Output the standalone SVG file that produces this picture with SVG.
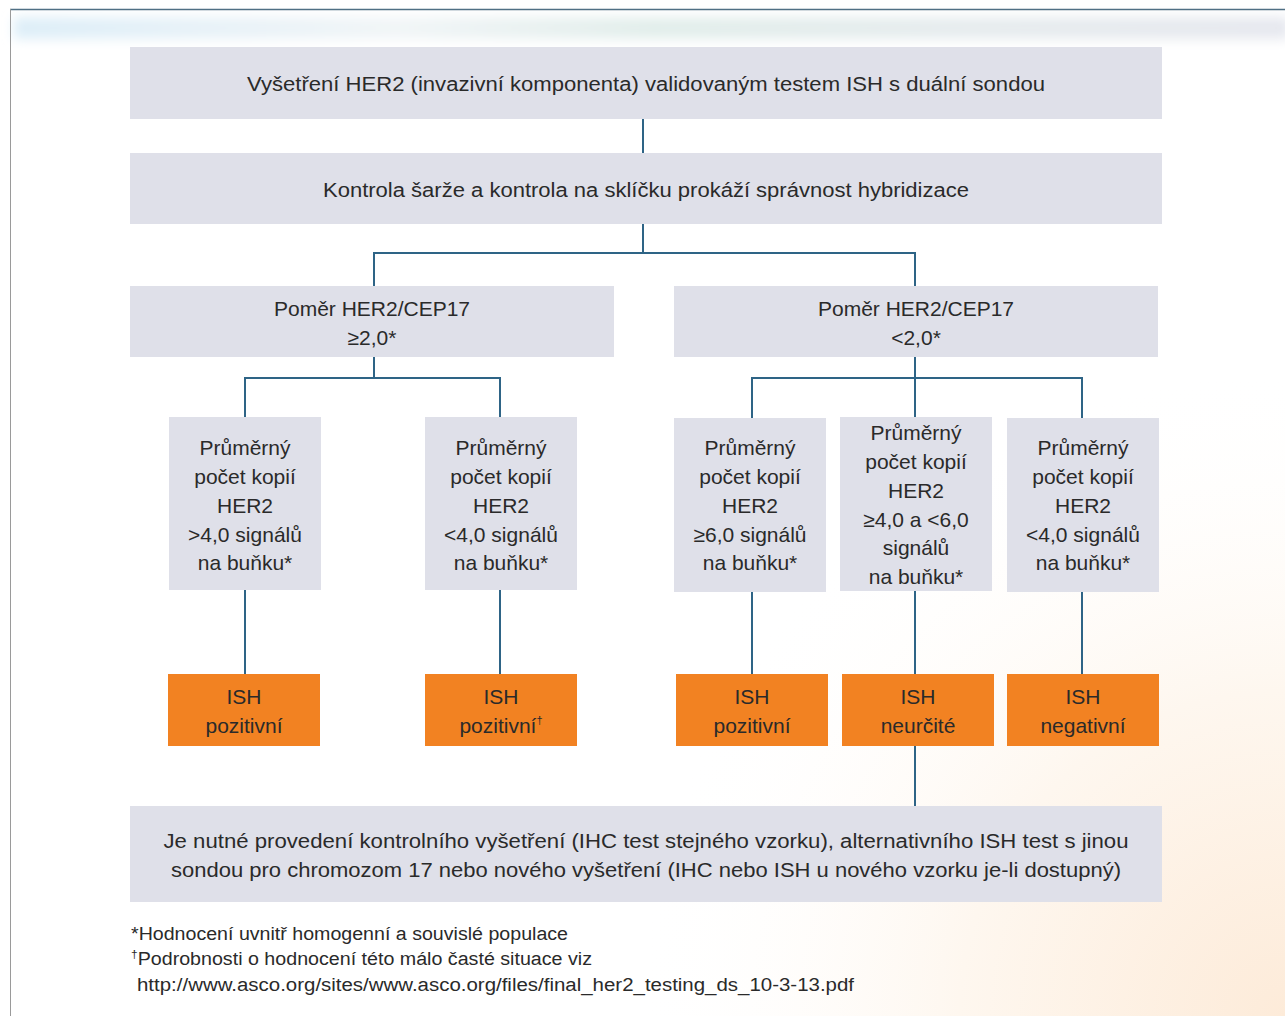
<svg xmlns="http://www.w3.org/2000/svg" width="1285" height="1016" viewBox="0 0 1285 1016">
<defs>
<style>
.g{fill:#dfe0e9}
.o{fill:#f28222}
.t{font-family:"Liberation Sans",Arial,sans-serif;font-size:20px;fill:#2a2a2a;text-anchor:middle}
.s{font-size:21px}
.f{font-family:"Liberation Sans",Arial,sans-serif;font-size:18px;fill:#2a2a2a}
.c{stroke:#2e6486;stroke-width:2;fill:none}
</style>
<linearGradient id="band" x1="0" y1="0" x2="1" y2="0">
<stop offset="0" stop-color="#ddeef8"/>
<stop offset="0.3" stop-color="#f1f5f7"/>
<stop offset="0.5" stop-color="#e2eeeb"/>
<stop offset="0.75" stop-color="#e6ecee"/>
<stop offset="1" stop-color="#e6e8ef"/>
</linearGradient>
<radialGradient id="peach" cx="1285" cy="1016" r="650" gradientUnits="userSpaceOnUse">
<stop offset="0" stop-color="#fdebd9"/>
<stop offset="0.5" stop-color="#fef7ef"/>
<stop offset="1" stop-color="#ffffff" stop-opacity="0"/>
</radialGradient>
<filter id="blur" x="-5%" y="-50%" width="110%" height="200%"><feGaussianBlur stdDeviation="6"/></filter>
</defs>
<rect width="1285" height="1016" fill="#ffffff"/>
<rect x="10" y="10" width="1275" height="1006" fill="url(#peach)"/>
<rect x="14" y="17" width="1275" height="22" fill="url(#band)" filter="url(#blur)"/>
<line x1="10" y1="9.5" x2="1285" y2="9.5" stroke="#4f6f84" stroke-width="1.5"/>
<line x1="10.5" y1="9" x2="10.5" y2="1016" stroke="#9a9a9a" stroke-width="1"/>

<g id="connectors">
<path class="c" d="M643 119V153M643 224V253M374 253H915M374 252V286M915 252V286"/>
<path class="c" d="M374 357V378M245 378H500M245 377V417M500 377V417"/>
<path class="c" d="M915 357V417M752 378H1082M752 377V418M1082 377V418"/>
<path class="c" d="M245 590V674M500 590V674M752 592V674M915 591V674M1082 592V674M915 746V806"/>
</g>

<g id="n1"><rect class="g" x="130" y="47" width="1032" height="72"/>
<text class="t" x="646" y="91" textLength="798" lengthAdjust="spacingAndGlyphs">Vyšetření HER2 (invazivní komponenta) validovaným testem ISH s duální sondou</text></g>
<g id="n2"><rect class="g" x="130" y="153" width="1032" height="71"/>
<text class="t" x="646" y="197" textLength="646" lengthAdjust="spacingAndGlyphs">Kontrola šarže a kontrola na sklíčku prokáží správnost hybridizace</text></g>
<g id="n3"><rect class="g" x="130" y="286" width="484" height="71"/>
<text class="t s" x="372" y="316">Poměr HER2/CEP17</text><text class="t s" x="372" y="345">≥2,0*</text></g>
<g id="n4"><rect class="g" x="674" y="286" width="484" height="71"/>
<text class="t s" x="916" y="316">Poměr HER2/CEP17</text><text class="t s" x="916" y="345">&lt;2,0*</text></g>

<g id="n5"><rect class="g" x="169" y="417" width="152" height="173"/>
<text class="t s" x="245" y="455">Průměrný</text><text class="t s" x="245" y="484">počet kopií</text><text class="t s" x="245" y="513">HER2</text><text class="t s" x="245" y="542">&gt;4,0 signálů</text><text class="t s" x="245" y="570">na buňku*</text></g>
<g id="n6"><rect class="g" x="425" y="417" width="152" height="173"/>
<text class="t s" x="501" y="455">Průměrný</text><text class="t s" x="501" y="484">počet kopií</text><text class="t s" x="501" y="513">HER2</text><text class="t s" x="501" y="542">&lt;4,0 signálů</text><text class="t s" x="501" y="570">na buňku*</text></g>
<g id="n7"><rect class="g" x="674" y="418" width="152" height="174"/>
<text class="t s" x="750" y="455">Průměrný</text><text class="t s" x="750" y="484">počet kopií</text><text class="t s" x="750" y="513">HER2</text><text class="t s" x="750" y="542">≥6,0 signálů</text><text class="t s" x="750" y="570">na buňku*</text></g>
<g id="n8"><rect class="g" x="840" y="417" width="152" height="174"/>
<text class="t s" x="916" y="440">Průměrný</text><text class="t s" x="916" y="469">počet kopií</text><text class="t s" x="916" y="498">HER2</text><text class="t s" x="916" y="527">≥4,0 a &lt;6,0</text><text class="t s" x="916" y="555">signálů</text><text class="t s" x="916" y="584">na buňku*</text></g>
<g id="n9"><rect class="g" x="1007" y="418" width="152" height="174"/>
<text class="t s" x="1083" y="455">Průměrný</text><text class="t s" x="1083" y="484">počet kopií</text><text class="t s" x="1083" y="513">HER2</text><text class="t s" x="1083" y="542">&lt;4,0 signálů</text><text class="t s" x="1083" y="570">na buňku*</text></g>

<g id="r1"><rect class="o" x="168" y="674" width="152" height="72"/>
<text class="t s" x="244" y="704">ISH</text><text class="t s" x="244" y="733">pozitivní</text></g>
<g id="r2"><rect class="o" x="425" y="674" width="152" height="72"/>
<text class="t s" x="501" y="704">ISH</text><text class="t s" x="501" y="733">pozitivní<tspan font-size="11" dy="-9">†</tspan></text></g>
<g id="r3"><rect class="o" x="676" y="674" width="152" height="72"/>
<text class="t s" x="752" y="704">ISH</text><text class="t s" x="752" y="733">pozitivní</text></g>
<g id="r4"><rect class="o" x="842" y="674" width="152" height="72"/>
<text class="t s" x="918" y="704">ISH</text><text class="t s" x="918" y="733">neurčité</text></g>
<g id="r5"><rect class="o" x="1007" y="674" width="152" height="72"/>
<text class="t s" x="1083" y="704">ISH</text><text class="t s" x="1083" y="733">negativní</text></g>

<g id="n10"><rect class="g" x="130" y="806" width="1032" height="96"/>
<text class="t" x="646" y="848" textLength="965" lengthAdjust="spacingAndGlyphs">Je nutné provedení kontrolního vyšetření (IHC test stejného vzorku), alternativního ISH test s jinou</text>
<text class="t" x="646" y="877" textLength="950" lengthAdjust="spacingAndGlyphs">sondou pro chromozom 17 nebo nového vyšetření (IHC nebo ISH u nového vzorku je-li dostupný)</text></g>

<g id="notes">
<text class="f" x="131" y="940" textLength="437" lengthAdjust="spacingAndGlyphs">*Hodnocení uvnitř homogenní a souvislé populace</text>
<text class="f" x="131" y="965" textLength="461" lengthAdjust="spacingAndGlyphs"><tspan font-size="11" dy="-7">†</tspan><tspan dy="7">Podrobnosti o hodnocení této málo časté situace viz</tspan></text>
<text class="f" x="137" y="991" textLength="717" lengthAdjust="spacingAndGlyphs">http://www.asco.org/sites/www.asco.org/files/final_her2_testing_ds_10-3-13.pdf</text>
</g>
</svg>
